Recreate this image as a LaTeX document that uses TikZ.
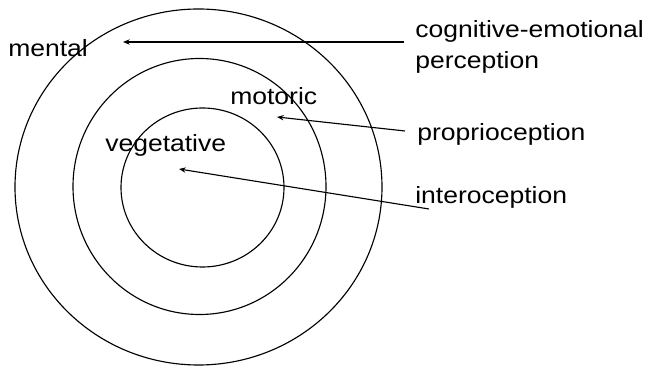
\documentclass[tikz,border=0pt]{standalone}
\usepackage{fontspec}
\setmainfont{Liberation Sans}[FakeStretch=1.13]
\usetikzlibrary{arrows.meta,positioning}

\begin{document}
\begin{tikzpicture}[x=0.75pt, y=-0.75pt,
  every node/.style={font=\fontsize{17.6pt}{23.25pt}\selectfont, inner sep=0pt, anchor=base west},
  ring/.style={draw, line width=0.85pt},
  arr/.style={-{Stealth[length=5pt,width=4pt]}, line width=0.85pt}]
\useasboundingbox (0,0) rectangle (651,366);
% rings
\draw[ring] (198.5,187) ellipse [x radius=183.5, y radius=178];
\draw[ring] (199.5,186.5) ellipse [x radius=126.5, y radius=128];
\draw[ring] (202.5,187.5) ellipse [x radius=81.5, y radius=79.5];
% ring labels
\node (mental) at (8,57) {mental};
\node (motoric) at (230,105) {motoric};
\node (veget) at (105,152) {vegetative};
% perception labels
\node (cogn) [align=left] at (415,69) {cognitive-emotional\\perception};
\node (propr) at (417,141) {proprioception};
\node (intero) at (415,204) {interoception};
% arrows
\coordinate (cognTail) at (404,42); \coordinate (mentalTip) at (123,42);
\coordinate (proprTail) at (405,131); \coordinate (motoricTip) at (277,117);
\coordinate (interoTail) at (429,209); \coordinate (vegetTip) at (179,169);
\draw[arr] (cognTail) -- (mentalTip);
\draw[arr] (proprTail) -- (motoricTip);
\draw[arr] (interoTail) -- (vegetTip);
\end{tikzpicture}
\end{document}
